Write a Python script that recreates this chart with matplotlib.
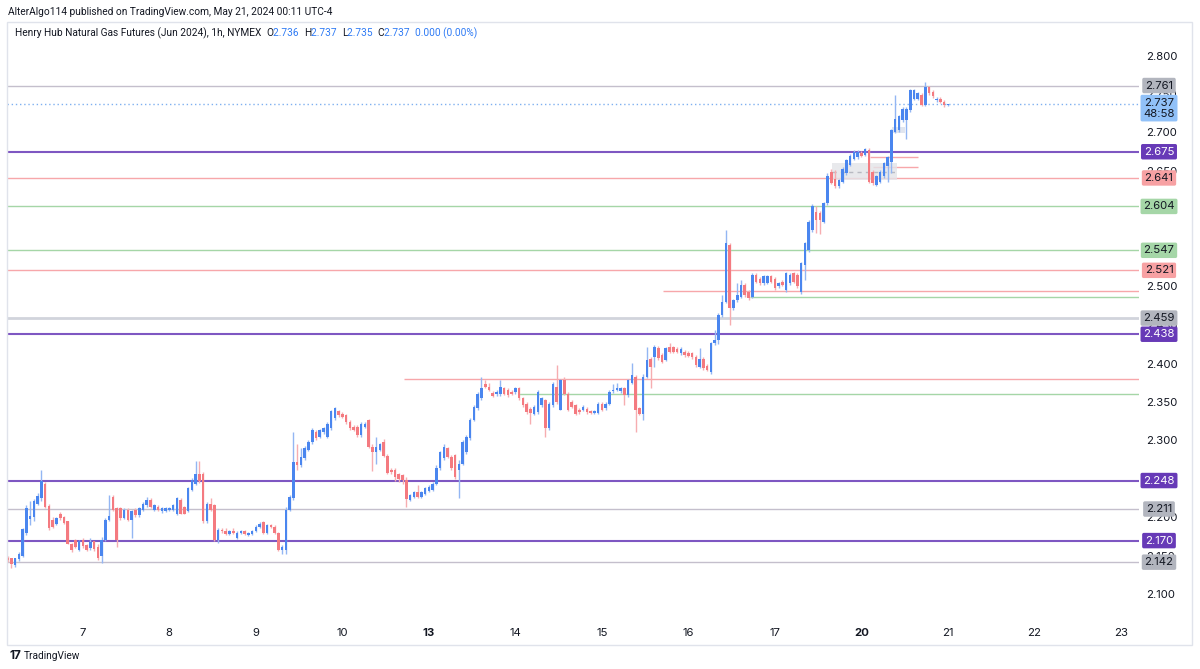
import numpy as np
import matplotlib.pyplot as plt
import matplotlib.transforms as mtransforms
from matplotlib.patches import Rectangle

plt.rcParams['font.family'] = ['Inter', 'DejaVu Sans']

# hourly candles, May 6 (partial) .. May 21 00:00
opens = [
    2.148, 2.147, 2.138, 2.146, 2.150, 2.180, 2.198, 2.200, 2.218, 2.225,
    2.244, 2.215, 2.197, 2.192, 2.205, 2.201, 2.195, 2.166, 2.171, 2.158,
    2.171, 2.164, 2.160, 2.169, 2.162, 2.150, 2.171, 2.197, 2.226, 2.212,
    2.212, 2.199, 2.210, 2.197, 2.210, 2.203, 2.210, 2.216, 2.223, 2.210,
    2.214, 2.208, 2.208, 2.210, 2.210, 2.204, 2.223, 2.214, 2.208, 2.236,
    2.244, 2.257, 2.257, 2.195, 2.218, 2.216, 2.171, 2.184, 2.182, 2.178,
    2.182, 2.173, 2.180, 2.182, 2.177, 2.178, 2.182, 2.188, 2.194, 2.180,
    2.190, 2.188, 2.180, 2.158, 2.158, 2.210, 2.225, 2.272, 2.268, 2.277,
    2.288, 2.298, 2.311, 2.305, 2.311, 2.305, 2.316, 2.329, 2.338, 2.335,
    2.333, 2.324, 2.318, 2.318, 2.307, 2.318, 2.326, 2.292, 2.285, 2.288,
    2.298, 2.280, 2.262, 2.262, 2.256, 2.255, 2.249, 2.223, 2.227, 2.233,
    2.227, 2.231, 2.235, 2.236, 2.244, 2.264, 2.277, 2.290, 2.279, 2.281,
    2.262, 2.270, 2.285, 2.303, 2.327, 2.342, 2.355, 2.374, 2.370, 2.362,
    2.360, 2.360, 2.368, 2.366, 2.363, 2.363, 2.368, 2.355, 2.348, 2.341,
    2.335, 2.337, 2.346, 2.352, 2.316, 2.346, 2.370, 2.340, 2.378, 2.361,
    2.350, 2.346, 2.340, 2.340, 2.341, 2.338, 2.336, 2.336, 2.348, 2.342,
    2.348, 2.364, 2.366, 2.364, 2.368, 2.359, 2.375, 2.383, 2.342, 2.335,
    2.383, 2.406, 2.409, 2.420, 2.411, 2.405, 2.422, 2.421, 2.419, 2.413,
    2.415, 2.414, 2.413, 2.409, 2.396, 2.406, 2.397, 2.389, 2.426, 2.430,
    2.463, 2.480, 2.554, 2.472, 2.482, 2.487, 2.502, 2.493, 2.487, 2.515,
    2.510, 2.504, 2.505, 2.513, 2.510, 2.500, 2.506, 2.495, 2.504, 2.517,
    2.515, 2.493, 2.528, 2.547, 2.573, 2.597, 2.595, 2.584, 2.608, 2.649,
    2.640, 2.630, 2.636, 2.647, 2.658, 2.666, 2.668, 2.674, 2.671, 2.677,
    2.649, 2.632, 2.636, 2.643, 2.656, 2.662, 2.701, 2.703, 2.716, 2.716,
    2.729, 2.744, 2.744, 2.749, 2.736, 2.759, 2.753, 2.742, 2.744, 2.740,
    2.736,
]
highs = [
    2.150, 2.148, 2.148, 2.155, 2.187, 2.216, 2.222, 2.224, 2.232, 2.262,
    2.246, 2.217, 2.200, 2.200, 2.207, 2.202, 2.196, 2.167, 2.172, 2.171,
    2.173, 2.165, 2.174, 2.170, 2.165, 2.175, 2.199, 2.229, 2.229, 2.214,
    2.213, 2.212, 2.212, 2.210, 2.212, 2.214, 2.220, 2.226, 2.225, 2.218,
    2.216, 2.213, 2.213, 2.214, 2.217, 2.227, 2.225, 2.215, 2.240, 2.251,
    2.273, 2.273, 2.259, 2.220, 2.225, 2.217, 2.186, 2.186, 2.186, 2.184,
    2.186, 2.182, 2.184, 2.184, 2.181, 2.184, 2.190, 2.194, 2.195, 2.191,
    2.192, 2.190, 2.181, 2.164, 2.214, 2.229, 2.311, 2.296, 2.290, 2.293,
    2.300, 2.316, 2.314, 2.315, 2.318, 2.324, 2.340, 2.344, 2.340, 2.337,
    2.335, 2.326, 2.320, 2.320, 2.324, 2.324, 2.328, 2.296, 2.305, 2.297,
    2.302, 2.282, 2.264, 2.264, 2.258, 2.257, 2.252, 2.231, 2.235, 2.242,
    2.235, 2.240, 2.242, 2.246, 2.268, 2.287, 2.295, 2.292, 2.281, 2.283,
    2.275, 2.300, 2.307, 2.329, 2.346, 2.363, 2.383, 2.378, 2.375, 2.364,
    2.365, 2.378, 2.370, 2.368, 2.365, 2.370, 2.370, 2.357, 2.350, 2.343,
    2.346, 2.365, 2.357, 2.354, 2.350, 2.376, 2.398, 2.380, 2.383, 2.363,
    2.352, 2.348, 2.342, 2.346, 2.343, 2.340, 2.340, 2.350, 2.350, 2.350,
    2.365, 2.373, 2.375, 2.370, 2.370, 2.380, 2.400, 2.385, 2.344, 2.386,
    2.422, 2.408, 2.424, 2.423, 2.413, 2.422, 2.426, 2.423, 2.421, 2.421,
    2.417, 2.416, 2.415, 2.411, 2.420, 2.408, 2.399, 2.428, 2.443, 2.465,
    2.489, 2.574, 2.556, 2.484, 2.504, 2.508, 2.504, 2.495, 2.517, 2.517,
    2.512, 2.515, 2.515, 2.515, 2.512, 2.506, 2.508, 2.519, 2.517, 2.519,
    2.517, 2.532, 2.558, 2.586, 2.607, 2.605, 2.598, 2.610, 2.647, 2.652,
    2.651, 2.640, 2.655, 2.666, 2.672, 2.677, 2.677, 2.676, 2.680, 2.680,
    2.651, 2.645, 2.651, 2.662, 2.670, 2.705, 2.749, 2.723, 2.733, 2.733,
    2.757, 2.757, 2.753, 2.751, 2.766, 2.761, 2.755, 2.746, 2.746, 2.742,
    2.737,
]
lows = [
    2.142, 2.134, 2.136, 2.144, 2.149, 2.177, 2.190, 2.196, 2.216, 2.222,
    2.212, 2.184, 2.186, 2.190, 2.197, 2.191, 2.165, 2.155, 2.160, 2.157,
    2.161, 2.156, 2.158, 2.157, 2.145, 2.141, 2.169, 2.195, 2.208, 2.162,
    2.197, 2.198, 2.195, 2.173, 2.201, 2.201, 2.208, 2.214, 2.212, 2.208,
    2.209, 2.206, 2.207, 2.209, 2.209, 2.203, 2.204, 2.204, 2.207, 2.234,
    2.242, 2.245, 2.193, 2.193, 2.208, 2.169, 2.167, 2.180, 2.177, 2.177,
    2.179, 2.172, 2.179, 2.177, 2.176, 2.177, 2.181, 2.187, 2.179, 2.179,
    2.187, 2.179, 2.157, 2.153, 2.153, 2.208, 2.223, 2.262, 2.266, 2.275,
    2.286, 2.296, 2.301, 2.303, 2.309, 2.303, 2.314, 2.327, 2.331, 2.329,
    2.322, 2.314, 2.312, 2.305, 2.305, 2.316, 2.290, 2.260, 2.270, 2.286,
    2.278, 2.256, 2.257, 2.248, 2.246, 2.243, 2.214, 2.221, 2.225, 2.225,
    2.225, 2.229, 2.233, 2.234, 2.242, 2.262, 2.275, 2.277, 2.262, 2.250,
    2.225, 2.268, 2.283, 2.301, 2.325, 2.340, 2.353, 2.368, 2.364, 2.356,
    2.358, 2.358, 2.359, 2.357, 2.359, 2.361, 2.353, 2.344, 2.335, 2.322,
    2.333, 2.334, 2.344, 2.305, 2.314, 2.344, 2.348, 2.339, 2.359, 2.338,
    2.342, 2.333, 2.335, 2.338, 2.335, 2.334, 2.334, 2.334, 2.338, 2.340,
    2.346, 2.362, 2.364, 2.362, 2.346, 2.357, 2.373, 2.311, 2.333, 2.326,
    2.381, 2.368, 2.396, 2.405, 2.400, 2.403, 2.413, 2.413, 2.413, 2.411,
    2.409, 2.408, 2.406, 2.396, 2.394, 2.392, 2.390, 2.387, 2.424, 2.425,
    2.461, 2.478, 2.450, 2.470, 2.480, 2.485, 2.487, 2.483, 2.485, 2.504,
    2.502, 2.502, 2.503, 2.504, 2.496, 2.498, 2.500, 2.493, 2.502, 2.504,
    2.498, 2.490, 2.508, 2.545, 2.571, 2.570, 2.568, 2.582, 2.606, 2.633,
    2.628, 2.628, 2.634, 2.645, 2.656, 2.664, 2.666, 2.668, 2.669, 2.634,
    2.632, 2.630, 2.634, 2.641, 2.636, 2.648, 2.699, 2.701, 2.714, 2.692,
    2.727, 2.742, 2.742, 2.734, 2.734, 2.749, 2.745, 2.740, 2.738, 2.733,
    2.735,
]
closes = [
    2.145, 2.139, 2.147, 2.153, 2.185, 2.212, 2.202, 2.222, 2.228, 2.247,
    2.214, 2.186, 2.188, 2.199, 2.199, 2.193, 2.166, 2.158, 2.162, 2.169,
    2.163, 2.158, 2.168, 2.159, 2.147, 2.171, 2.197, 2.202, 2.210, 2.171,
    2.199, 2.210, 2.197, 2.208, 2.203, 2.212, 2.218, 2.223, 2.214, 2.216,
    2.210, 2.212, 2.212, 2.212, 2.216, 2.225, 2.205, 2.205, 2.238, 2.249,
    2.257, 2.247, 2.195, 2.218, 2.210, 2.171, 2.184, 2.182, 2.178, 2.182,
    2.180, 2.180, 2.182, 2.178, 2.180, 2.182, 2.188, 2.192, 2.180, 2.190,
    2.188, 2.180, 2.158, 2.162, 2.210, 2.227, 2.272, 2.268, 2.279, 2.290,
    2.298, 2.314, 2.303, 2.313, 2.316, 2.322, 2.338, 2.342, 2.333, 2.331,
    2.324, 2.316, 2.314, 2.307, 2.322, 2.322, 2.292, 2.285, 2.292, 2.295,
    2.280, 2.258, 2.259, 2.252, 2.250, 2.249, 2.224, 2.229, 2.233, 2.227,
    2.233, 2.238, 2.240, 2.244, 2.264, 2.285, 2.292, 2.279, 2.264, 2.252,
    2.270, 2.298, 2.305, 2.327, 2.344, 2.361, 2.368, 2.370, 2.366, 2.358,
    2.363, 2.370, 2.361, 2.359, 2.361, 2.368, 2.355, 2.346, 2.337, 2.336,
    2.344, 2.363, 2.355, 2.316, 2.348, 2.374, 2.350, 2.378, 2.361, 2.340,
    2.344, 2.335, 2.337, 2.344, 2.337, 2.336, 2.338, 2.348, 2.340, 2.348,
    2.363, 2.366, 2.368, 2.368, 2.359, 2.378, 2.385, 2.340, 2.335, 2.383,
    2.405, 2.396, 2.422, 2.407, 2.402, 2.420, 2.415, 2.415, 2.415, 2.419,
    2.411, 2.410, 2.408, 2.398, 2.406, 2.394, 2.392, 2.426, 2.430, 2.463,
    2.480, 2.556, 2.472, 2.482, 2.489, 2.502, 2.489, 2.485, 2.515, 2.506,
    2.504, 2.513, 2.513, 2.506, 2.498, 2.504, 2.502, 2.517, 2.515, 2.506,
    2.500, 2.530, 2.556, 2.584, 2.605, 2.586, 2.586, 2.608, 2.643, 2.635,
    2.630, 2.638, 2.653, 2.664, 2.670, 2.675, 2.675, 2.670, 2.678, 2.636,
    2.634, 2.643, 2.649, 2.660, 2.668, 2.703, 2.718, 2.721, 2.731, 2.731,
    2.755, 2.755, 2.751, 2.736, 2.759, 2.751, 2.747, 2.744, 2.740, 2.736,
    2.737,
]

day_labels = ['7', '8', '9', '10', '13', '14', '15', '16', '17', '20', '21', '22', '23']
day_first_bar = [20, 43, 66, 89, 112, 135, 158, 181, 204, 227, 250, 273, 296]
bold_days = ['13', '20']

# price scale ticks (those hidden under the level tags are left out)
price_ticks = [2.100, 2.150, 2.200, 2.300, 2.350, 2.400, 2.450, 2.500, 2.650, 2.700, 2.750, 2.800]

# horizontal levels drawn across the whole pane
level_prices = [2.761, 2.675, 2.641, 2.604, 2.547, 2.521, 2.459, 2.438, 2.248, 2.211, 2.170, 2.142]
level_kinds = ['gray', 'purple', 'pink', 'green', 'green', 'pink', 'gray2', 'purple',
               'purple', 'gray', 'purple', 'gray']
# levels that start at a given bar
ray_prices = [2.494, 2.486, 2.380, 2.361, 2.668, 2.655]
ray_start = [174.3, 197.4, 105.4, 135.7, 229.3, 230.1]
ray_end = [None, None, None, None, 242.1, 242.1]
ray_kinds = ['pink', 'green', 'pink', 'green', 'pink', 'pink']
last_price = 2.737
countdown = '48:58'

line_col = {'gray': '#c4bfcc', 'gray2': '#d1d4dc', 'purple': '#7e57c2',
            'pink': '#f7a7aa', 'green': '#a5d6a7'}
line_w = {'gray': 1.0, 'gray2': 2.0, 'purple': 1.5, 'pink': 1.0, 'green': 1.0}
box_col = {'gray': '#b2b5be', 'gray2': '#b2b5be', 'purple': '#673ab7',
           'pink': '#f7a1a3', 'green': '#a5d6a7'}

W, H = 1200, 669
fig = plt.figure(figsize=(W / 100, H / 100), dpi=100)
fig.patch.set_facecolor('white')


def fx(px):
    return px / W


def fy(py):
    return 1 - py / H


ax = fig.add_axes([fx(7), fy(614), fx(1139 - 7), (614 - 22) / H])
ax.set_facecolor('white')
ax.set_xlim((7 - 7.6) / 3.761, (1139 - 7.6) / 3.761)
ax.set_ylim(2.8 - (614 - 55.5) / 770, 2.8 + (55.5 - 22) / 770)
for s in ax.spines.values():
    s.set_visible(False)

o = np.array(opens)
h = np.array(highs)
l = np.array(lows)
c = np.array(closes)
x = np.arange(len(o))
up = c >= o

# levels
for p, k in zip(level_prices, level_kinds):
    ax.axhline(p, color=line_col[k], lw=line_w[k], zorder=1)
xmax = ax.get_xlim()[1]
for p, s, e, k in zip(ray_prices, ray_start, ray_end, ray_kinds):
    ax.hlines(p, s, xmax if e is None else e, color=line_col[k], lw=1.0, zorder=1)
ax.axhline(last_price, color='#7fb0f0', lw=1.0, ls=(0, (1, 2)), zorder=1)

# position boxes around May 20
ax.add_patch(Rectangle((219.2, 2.638), 17.3, 0.022, fc='#e3e4e8', ec='none', alpha=0.8, zorder=1.5))
ax.hlines(2.649, 219.2, 236.5, color='#b8bac2', lw=1.0, ls=(0, (3, 3)), zorder=1.6)
ax.add_patch(Rectangle((235.2, 2.699), 3.4, 0.008, fc='#dde3ee', ec='none', alpha=0.9, zorder=1.5))

# candles
wick_col = np.where(up, '#93b6f3', '#f6adb0')
body_col = np.where(up, '#4a86ef', '#f47a80')
ax.vlines(x, l, h, colors=wick_col, lw=1.0, zorder=2)
ax.bar(x, np.maximum(np.abs(c - o), 0.0007), bottom=np.minimum(o, c), width=0.68,
       color=body_col, linewidth=0, zorder=3)

# price scale
ax.yaxis.tick_right()
ax.set_yticks(price_ticks)
ax.set_yticklabels([f'{t:.3f}' for t in price_ticks])
ax.tick_params(axis='y', length=0, pad=5, labelsize=8.2, labelcolor='#131722')

# time scale
ax.set_xticks(day_first_bar)
ax.set_xticklabels(day_labels)
ax.tick_params(axis='x', length=0, pad=10, labelsize=8.2, labelcolor='#131722')
for t in ax.get_xticklabels():
    if t.get_text() in bold_days:
        t.set_fontweight('bold')

# price tags on the scale
tr = mtransforms.blended_transform_factory(fig.transFigure, ax.transData)
for p, k in zip(level_prices, level_kinds):
    txt_col = 'white' if k == 'purple' else '#131722'
    ax.text(fx(1159), p, f'{p:.3f}', transform=tr, ha='center', va='center',
            fontsize=8.2, color=txt_col, zorder=10,
            bbox=dict(boxstyle='round,pad=0.24,rounding_size=0.15', fc=box_col[k], ec='none'))
tr_last = mtransforms.offset_copy(tr, fig=fig, x=0, y=6.5, units='dots')
ax.text(fx(1159), last_price, f'{last_price:.3f}\n{countdown}', transform=tr_last,
        ha='center', va='top', fontsize=8.2, color='#131722', linespacing=1.15, zorder=10,
        bbox=dict(boxstyle='round,pad=0.24,rounding_size=0.15', fc='#91c1f8', ec='none'))

# outer frame
fig.add_artist(Rectangle((fx(7), fy(645)), fx(1192 - 7), (645 - 22) / H, transform=fig.transFigure,
                         fill=False, ec='#e0e3eb', lw=1.0))

# header
hdr_font = ['Roboto', 'DejaVu Sans']
hdr_size = 7.3
fig.text(fx(8), fy(12), 'AlterAlgo114 published on TradingView.com, May 21, 2024 00:11 UTC-4',
         fontsize=hdr_size, family=hdr_font, color='#131722', va='center')
parts = [('O', '#131722'), ('2.736  ', '#2f7bf5'),
         ('H', '#131722'), ('2.737  ', '#2f7bf5'),
         ('L', '#131722'), ('2.735  ', '#2f7bf5'),
         ('C', '#131722'), ('2.737  ', '#2f7bf5'),
         ('0.000 (0.00%)', '#2f7bf5')]
anchor = fig.text(fx(15), fy(33), 'Henry Hub Natural Gas Futures (Jun 2024), 1h, NYMEX  ',
                  fontsize=hdr_size, family=hdr_font, color='#131722', va='center')
for s, col in parts:
    anchor = ax.annotate(s, xy=(1, 0.5), xycoords=anchor, va='center', ha='left',
                         fontsize=hdr_size, family=hdr_font, color=col, annotation_clip=False)

# footer logo
fig.text(fx(10), fy(656), '17', fontsize=8.5, fontweight='bold', color='#131722', va='center')
fig.text(fx(24), fy(656), 'TradingView', fontsize=hdr_size, family=hdr_font, color='#131722', va='center')

fig.savefig('out.png', dpi=100)
